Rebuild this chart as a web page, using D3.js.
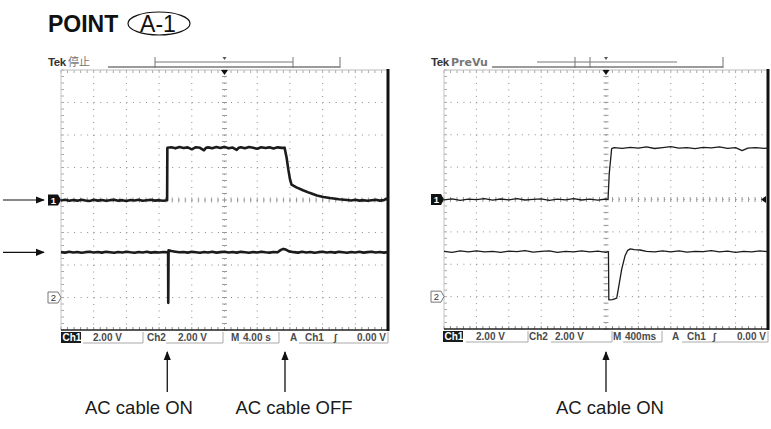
<!DOCTYPE html>
<html>
<head>
<meta charset="utf-8">
<script src="https://cdn.jsdelivr.net/npm/d3@7"></script>
<style>
  body { margin: 0; background: #fff; }
  svg { display: block; }
</style>
</head>
<body>
<div id="svg"></div>
<script>
var w = 771;
var h = 429;

// left scope: 4.00 s/div, time in s ; right scope: 400 ms/div, time in ms ; both channels 2.00 V/div
var leftCh1 = [[-20,-0.03],[-19.5,0.01],[-19,-0.05],[-18.5,0.0],[-18,-0.04],[-17.5,0.02],[-17,-0.03],[-16.5,-0.06],
  [-16,0.01],[-15.5,-0.04],[-15,0.0],[-14.5,-0.05],[-14,-0.01],[-13.5,0.02],[-13,-0.04],[-12.5,-0.01],[-12,-0.06],
  [-11.5,0.0],[-11,-0.03],[-10.5,0.01],[-10,-0.05],[-9.5,-0.02],[-9,0.01],[-8.5,-0.04],[-8,-0.01],[-7.5,-0.05],
  [-7.02,-0.02],[-6.99,3.22],[-6.5,3.25],[-6,3.18],[-5.5,3.26],[-5,3.2],[-4.5,3.24],[-4,3.12],[-3.5,3.25],[-3,3.21],
  [-2.5,3.06],[-2.25,3.22],[-2,3.24],[-1.5,3.19],[-1,3.26],[-0.5,3.2],[0,3.27],[0.5,3.18],[1,3.23],[1.5,3.08],
  [1.75,3.22],[2,3.25],[2.5,3.19],[3,3.26],[3.5,3.21],[4,3.15],[4.5,3.25],[5,3.2],[5.5,3.24],[6,3.17],[6.5,3.24],
  [7,3.21],[7.35,3.22],[7.6,2.6],[7.8,1.9],[8,1.3],[8.2,0.95],[8.8,0.78],[9.6,0.6],[10.4,0.44],[11.3,0.28],
  [12.1,0.19],[12.9,0.12],[14,0.05],[15,0.0],[15.5,-0.03],[16,0.01],[16.5,-0.04],[17,-0.01],[17.5,-0.05],
  [18,-0.02],[18.5,0.01],[19,-0.04],[19.5,-0.01],[19.8,0.08],[20,0.0]];

var leftCh2 = [[-20,2.79],[-19.5,2.76],[-19,2.81],[-18.5,2.77],[-18,2.8],[-17.5,2.75],[-17,2.79],[-16.5,2.82],
  [-16,2.77],[-15.5,2.8],[-15,2.76],[-14.5,2.81],[-14,2.78],[-13.5,2.75],[-13,2.8],[-12.5,2.77],[-12,2.82],
  [-11.5,2.78],[-11,2.75],[-10.5,2.8],[-10,2.77],[-9.5,2.81],[-9,2.76],[-8.5,2.79],[-8,2.77],[-7.5,2.8],
  [-6.9,2.78],[-6.88,-0.33],[-6.84,2.9],[-6.5,2.86],[-6,2.82],[-5.5,2.78],[-5,2.8],[-4.5,2.76],[-4,2.81],
  [-3.5,2.78],[-3,2.75],[-2.5,2.8],[-2,2.77],[-1.5,2.81],[-1,2.76],[-0.5,2.79],[0,2.82],[0.5,2.77],[1,2.8],
  [1.5,2.76],[2,2.81],[2.5,2.78],[3,2.75],[3.5,2.8],[4,2.77],[4.5,2.82],[5,2.78],[5.5,2.76],[6,2.8],[6.5,2.78],
  [6.9,2.93],[7.2,2.99],[7.5,2.95],[7.9,2.84],[8.5,2.79],[9,2.76],[9.5,2.81],[10,2.77],[10.5,2.8],[11,2.75],
  [11.5,2.79],[12,2.82],[12.5,2.77],[13,2.8],[13.5,2.76],[14,2.81],[14.5,2.78],[15,2.75],[15.5,2.8],[16,2.77],
  [16.5,2.81],[17,2.76],[17.5,2.79],[18,2.82],[18.5,2.77],[19,2.8],[19.5,2.76],[20,2.79]];

var rightCh1 = [[-2000,-0.02],[-1900,0.04],[-1800,-0.05],[-1700,0.02],[-1600,-0.01],[-1500,0.05],[-1400,-0.04],
  [-1300,0.03],[-1200,-0.02],[-1100,0.06],[-1000,-0.03],[-900,0.01],[-800,0.04],[-700,-0.05],[-600,0.02],
  [-500,-0.02],[-400,0.05],[-300,-0.03],[-200,0.02],[-100,-0.04],[0,0.03],[25,0.0],[40,1.6],[70,3.15],[100,3.2],
  [200,3.16],[300,3.22],[400,3.17],[500,3.25],[600,3.15],[700,3.2],[800,3.26],[900,3.18],[1000,3.21],[1100,3.14],
  [1200,3.22],[1300,3.19],[1400,3.25],[1500,3.16],[1600,3.2],[1680,3.02],[1750,3.17],[1850,3.2],[1950,3.16],[2000,3.18]];

var rightCh2 = [[-2000,2.8],[-1900,2.74],[-1800,2.82],[-1700,2.77],[-1600,2.83],[-1500,2.76],[-1400,2.8],
  [-1300,2.73],[-1200,2.81],[-1100,2.78],[-1000,2.84],[-900,2.75],[-800,2.79],[-700,2.82],[-600,2.74],[-500,2.8],
  [-400,2.77],[-300,2.83],[-200,2.76],[-100,2.81],[0,2.74],[30,2.78],[35,-0.2],[80,-0.18],[132,-0.1],[152,0.47],
  [194,1.7],[235,2.52],[268,2.86],[300,2.95],[350,2.9],[420,2.88],[500,2.8],[600,2.76],[700,2.82],[800,2.77],
  [900,2.83],[1000,2.75],[1100,2.8],[1200,2.78],[1300,2.84],[1400,2.76],[1500,2.81],[1600,2.74],[1700,2.8],
  [1800,2.77],[1900,2.82],[2000,2.78]];

var leftStatus = ['Ch1', '2.00 V', 'Ch2', '2.00 V', 'M', '4.00 s', 'A', 'Ch1', '\u222B', '0.00 V'];
var rightStatus = ['Ch1', '2.00 V', 'Ch2', '2.00 V', 'M', '400ms', 'A', 'Ch1', '\u222B', '0.00 V'];

var leftEvents = [-7.0, 7.4];
var rightEvents = [0];
var leftLabels = ['AC cable ON', 'AC cable OFF'];
var rightLabels = ['AC cable ON'];

const svg = d3.select('#svg')
              .append('svg')
              .attr('width', w)
              .attr('height', h)
              .style('font-family', 'Liberation Sans, Arial, sans-serif');

// title
svg.append('text').attr('x', 48).attr('y', 32)
   .attr('font-size', 23).attr('font-weight', 'bold').attr('fill', '#111')
   .text('POINT');
svg.append('text').attr('x', 158).attr('y', 32).attr('text-anchor', 'middle')
   .attr('font-size', 23).attr('fill', '#111')
   .text('A-1');
svg.append('ellipse').attr('cx', 159).attr('cy', 23.5).attr('rx', 31).attr('ry', 11.5)
   .attr('fill', 'none').attr('stroke', '#111').attr('stroke-width', 1.2);

var defs = svg.append('defs');
defs.append('marker').attr('id', 'head')
    .attr('viewBox', '0 0 10 10').attr('refX', 9).attr('refY', 5)
    .attr('markerWidth', 9).attr('markerHeight', 9).attr('markerUnits', 'userSpaceOnUse')
    .attr('orient', 'auto')
  .append('path').attr('d', 'M0,1 L10,5 L0,9 Z').attr('fill', '#111');

function drawScope(o) {
  var g = svg.append('g');
  var left = o.left, top = o.top, right = o.left + o.width, bottom = o.top + o.height;
  var t0 = o.tDomain[0], t1 = o.tDomain[1], step = (t1 - t0) / 10;

  var x = d3.scaleLinear().domain(o.tDomain).range([left, right]);
  var y1 = d3.scaleLinear().domain([-8, 8]).range([bottom, top]);
  // ch2 ground sits 3 div below centre
  var y2 = d3.scaleLinear().domain([-2, 14]).range([bottom, top]);

  var xDiv = d3.range(11).map(i => t0 + i * step);
  var xMinor = d3.range(51).map(i => t0 + i * step / 5);
  var yDiv = d3.range(-8, 8.01, 2);
  var yMinor = d3.range(-8, 8.01, 0.4);
  var cx = x((t0 + t1) / 2), cy = y1(0);
  var mx = o.width / 50, my = o.height / 40;

  // dotted grid
  g.selectAll('.gx').data(xDiv.slice(1, -1)).enter().append('line')
    .attr('x1', d => x(d)).attr('x2', d => x(d)).attr('y1', top).attr('y2', bottom)
    .attr('stroke', '#8c8c8c').attr('stroke-dasharray', '1 ' + (my - 1));
  g.selectAll('.gy').data(yDiv.slice(1, -1)).enter().append('line')
    .attr('y1', d => y1(d)).attr('y2', d => y1(d)).attr('x1', left).attr('x2', right)
    .attr('stroke', '#8c8c8c').attr('stroke-dasharray', '1 ' + (mx - 1));

  // minor ticks on centre lines and edges
  g.selectAll('.tx').data(xMinor).enter().append('line')
    .attr('x1', d => x(d)).attr('x2', d => x(d)).attr('y1', cy - 2.5).attr('y2', cy + 2.5)
    .attr('stroke', '#999');
  g.selectAll('.ty').data(yMinor).enter().append('line')
    .attr('y1', d => y1(d)).attr('y2', d => y1(d)).attr('x1', cx - 2.5).attr('x2', cx + 2.5)
    .attr('stroke', '#999');
  g.selectAll('.tt').data(xMinor).enter().append('line')
    .attr('x1', d => x(d)).attr('x2', d => x(d)).attr('y1', top).attr('y2', top + 3)
    .attr('stroke', '#aaa');
  g.selectAll('.tb').data(xMinor).enter().append('line')
    .attr('x1', d => x(d)).attr('x2', d => x(d)).attr('y1', bottom - 3).attr('y2', bottom)
    .attr('stroke', '#888');
  g.selectAll('.tl').data(yMinor).enter().append('line')
    .attr('y1', d => y1(d)).attr('y2', d => y1(d)).attr('x1', left).attr('x2', left + 3)
    .attr('stroke', '#aaa');

  // frame
  g.append('line').attr('x1', left).attr('x2', right).attr('y1', top).attr('y2', top)
    .attr('stroke', '#bbb');
  g.append('line').attr('x1', left).attr('x2', left).attr('y1', top).attr('y2', bottom)
    .attr('stroke', '#c4c4c4');
  g.append('line').attr('x1', left).attr('x2', right + 1).attr('y1', bottom).attr('y2', bottom)
    .attr('stroke', '#222').attr('stroke-width', 1.6);
  g.append('line').attr('x1', right).attr('x2', right).attr('y1', top - 1).attr('y2', bottom + 1)
    .attr('stroke', '#111').attr('stroke-width', 3);

  // traces
  var line1 = d3.line().x(d => x(d[0])).y(d => y1(d[1]));
  var line2 = d3.line().x(d => x(d[0])).y(d => y2(d[1]));
  g.append('path').attr('d', line1(o.ch1)).attr('fill', 'none')
    .attr('stroke', '#1b1b1b').attr('stroke-width', o.sw).attr('stroke-linejoin', 'round');
  g.append('path').attr('d', line2(o.ch2)).attr('fill', 'none')
    .attr('stroke', '#1b1b1b').attr('stroke-width', o.sw).attr('stroke-linejoin', 'round');

  // trigger marker
  g.append('path').attr('d', `M${cx - 3.5},${top} L${cx + 3.5},${top} L${cx},${top + 5} Z`).attr('fill', '#111');

  // channel markers
  var m1 = y1(0), m2 = y2(0), mx0 = left - 13;
  g.append('path').attr('d', `M${mx0},${m1 - 5.5} L${left - 3},${m1 - 5.5} L${left},${m1} L${left - 3},${m1 + 5.5} L${mx0},${m1 + 5.5} Z`)
    .attr('fill', '#111');
  g.append('text').attr('x', mx0 + 5.5).attr('y', m1 + 3.5).attr('text-anchor', 'middle')
    .attr('font-size', 9.5).attr('font-weight', 'bold').attr('fill', '#fff').text('1');
  g.append('path').attr('d', `M${mx0},${m2 - 5.5} L${left - 3},${m2 - 5.5} L${left},${m2} L${left - 3},${m2 + 5.5} L${mx0},${m2 + 5.5} Z`)
    .attr('fill', '#fff').attr('stroke', '#777');
  g.append('text').attr('x', mx0 + 5.5).attr('y', m2 + 3.5).attr('text-anchor', 'middle')
    .attr('font-size', 9.5).attr('fill', '#333').text('2');
  if (o.levelMark) {
    g.append('path').attr('d', `M${right - 7},${m1} L${right - 2},${m1 - 3.5} L${right - 2},${m1 + 3.5} Z`).attr('fill', '#111');
  }

  // header
  g.append('text').attr('x', o.tekX).attr('y', 66).attr('font-size', 11.5).attr('font-weight', 'bold')
    .attr('fill', '#333').attr('letter-spacing', -0.4).text('Tek');
  g.append('text').attr('x', o.tekX + 20).attr('y', 66).attr('font-size', o.modeSize)
    .attr('font-family', o.modeFont).attr('fill', '#777').attr('font-weight', o.modeWeight).text(o.mode);
  g.append('line').attr('x1', o.bar[0]).attr('x2', o.bar[1]).attr('y1', 67).attr('y2', 67)
    .attr('stroke', '#9a9a9a').attr('stroke-width', 2);
  g.append('line').attr('x1', o.bar[1]).attr('x2', o.bar[1]).attr('y1', 57).attr('y2', 68)
    .attr('stroke', '#888').attr('stroke-width', 1.2);
  g.append('line').attr('x1', o.thin[0]).attr('x2', o.thin[1]).attr('y1', 62).attr('y2', 62)
    .attr('stroke', '#777').attr('stroke-width', 1);
  o.brackets.forEach(b => {
    g.append('line').attr('x1', b).attr('x2', b).attr('y1', 57).attr('y2', 68)
      .attr('stroke', '#777').attr('stroke-width', 1);
  });
  g.append('path').attr('d', `M${cx - 2},57 L${cx + 2},57 L${cx},60 Z`).attr('fill', '#555');

  // status bar
  var sy = bottom + 11;
  g.append('rect').attr('x', o.inv[0]).attr('y', bottom + 2).attr('width', o.inv[1] - o.inv[0]).attr('height', 11)
    .attr('fill', '#1a1a1a');
  o.boxes.forEach(b => {
    g.append('path').attr('d', `M${b[0]},${bottom + 13} L${b[1]},${bottom + 13} L${b[1]},${bottom + 2}`)
      .attr('fill', 'none').attr('stroke', '#aaa').attr('stroke-width', 1);
  });
  o.status.forEach((s, i) => {
    g.append('text').attr('x', o.statusX[i]).attr('y', sy)
      .attr('font-size', 10).attr('font-weight', 'bold')
      .attr('fill', i === 0 ? '#fff' : '#4a4a4a')
      .attr('font-style', s === '\u222B' ? 'italic' : 'normal')
      .text(s);
  });

  // event arrows below
  o.events.forEach((t, i) => {
    g.append('line').attr('x1', x(t)).attr('x2', x(t)).attr('y1', 392).attr('y2', 352)
      .attr('stroke', '#111').attr('stroke-width', 1.3).attr('marker-end', 'url(#head)');
    g.append('text').attr('x', o.labelX[i]).attr('y', 414).attr('text-anchor', 'middle')
      .attr('font-size', 18.5).attr('fill', '#1a1a1a').text(o.labels[i]);
  });

  return { y1: y1, y2: y2 };
}

var L = drawScope({
  left: 61, top: 70, width: 327, height: 260, tDomain: [-20, 20],
  ch1: leftCh1, ch2: leftCh2, sw: 2.6,
  tekX: 48, mode: '\u505C\u6B62', modeSize: 11, modeFont: 'Noto Sans CJK JP', modeWeight: 'normal',
  bar: [108, 340], thin: [155, 293], brackets: [155, 293],
  inv: [61, 81], boxes: [[83, 143], [166, 223], [239, 279], [299, 388]],
  status: leftStatus, statusX: [62.5, 93, 147, 178, 231, 243, 290, 305, 334, 357],
  events: leftEvents, labels: leftLabels, labelX: [139, 294], levelMark: false
});

drawScope({
  left: 444, top: 70, width: 324, height: 259, tDomain: [-2000, 2000],
  ch1: rightCh1, ch2: rightCh2, sw: 1.3,
  tekX: 431, mode: 'PreVu', modeSize: 11, modeFont: 'DejaVu Sans', modeWeight: 'bold',
  bar: [492, 723], thin: [537, 677], brackets: [575, 590],
  inv: [443, 463], boxes: [[466, 528], [551, 612], [623, 662], [682, 768]],
  status: rightStatus, statusX: [444.5, 476, 529, 555, 613, 625, 672, 687, 713, 737],
  events: rightEvents, labels: rightLabels, labelX: [610], levelMark: true
});

// arrows on the far left pointing at the left scope's traces
[L.y1(0), L.y2(2.78)].forEach(yy => {
  svg.append('line').attr('x1', 3).attr('x2', 44).attr('y1', yy).attr('y2', yy)
     .attr('stroke', '#111').attr('stroke-width', 1.2).attr('marker-end', 'url(#head)');
});
</script>
</body>
</html>
